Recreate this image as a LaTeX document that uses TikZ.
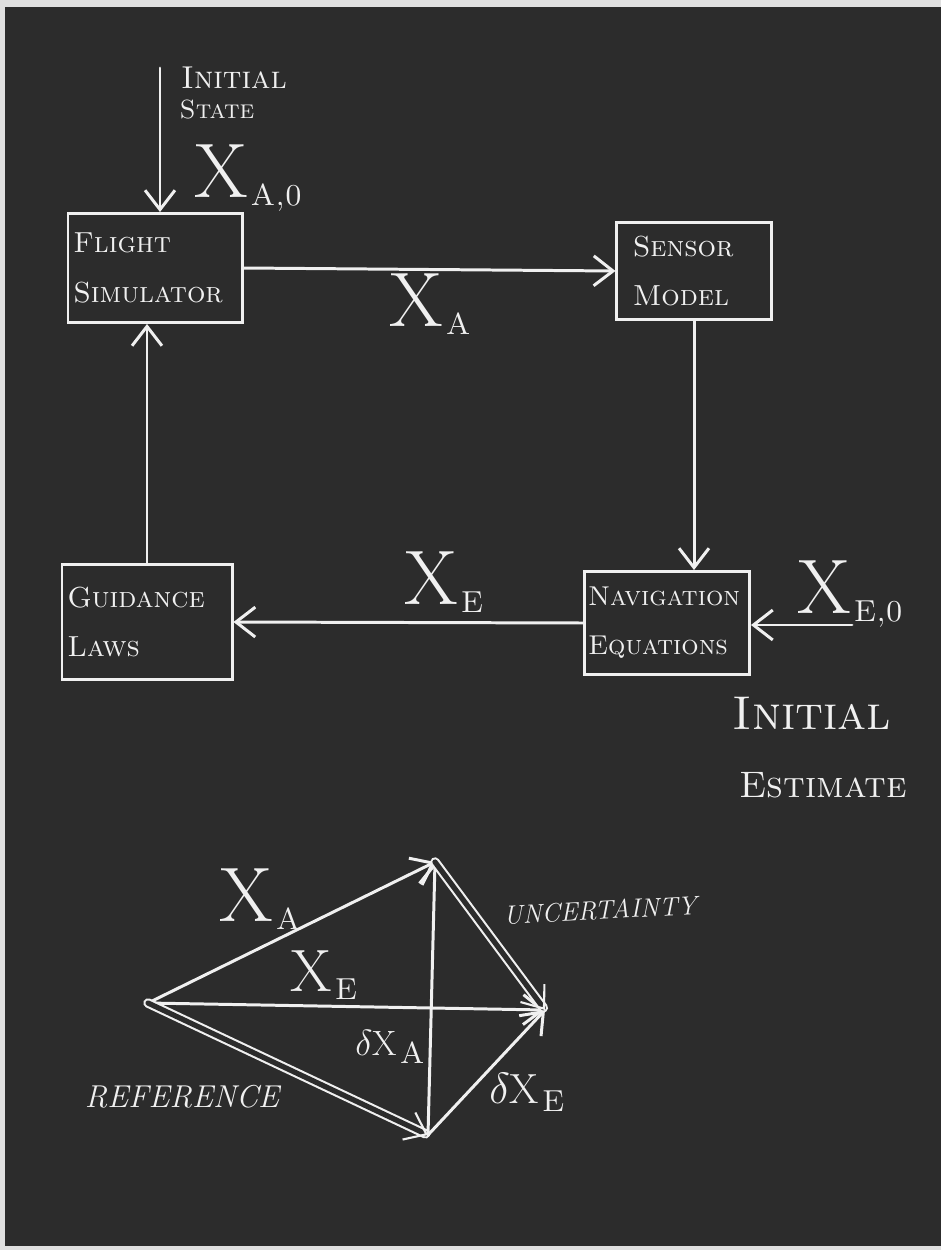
\documentclass[tikz,border=0pt]{standalone}
\usepackage{fontspec}
\usetikzlibrary{arrows.meta}
\definecolor{board}{RGB}{44,44,44}
\definecolor{chalk}{RGB}{240,240,240}
\newcommand{\stX}[3][]{{\fontsize{#2}{#2}\selectfont #1X}\,\raisebox{-1.1ex}{\LARGE\scshape #3}}

\begin{document}
\begin{tikzpicture}[x=0.02cm,y=-0.02cm,color=chalk,line width=1.7pt,
  vec/.style={-{Straight Barb[length=11pt,width=17pt]},line cap=round,line join=round},
  dvec/.style={vec,double=board,double distance=3pt,line width=1.2pt},
  blk/.style={draw,align=left,inner xsep=3pt,font=\fontsize{16.5}{19}\selectfont\scshape}]
\fill[black!12] (0,0) rectangle (941,1250);
\fill[board] (5,7) rectangle (941,1246);
\useasboundingbox (0,0) rectangle (941,1250);
\node[blk,text width=3.27cm,minimum height=2.18cm] (fs) at (155,268) {Flight\\[9pt]Simulator};
\node[blk,inner xsep=9pt,text width=2.45cm,minimum height=1.96cm] (sm) at (694,271) {Sensor\\[9pt]Model};
\node[blk,inner xsep=2pt,text width=3.16cm,minimum height=2.06cm,font=\fontsize{15.5}{18}\selectfont\scshape] (ne) at (667,623) {Navigation\\[10pt]Equations};
\node[blk,text width=3.19cm,minimum height=2.3cm] (gl) at (147,622) {Guidance\\[9pt]Laws};
\coordinate (is) at (160,68);
\coordinate (es) at (852,625);
\draw[vec] (is) -- (is |- fs.north);
\draw[vec] (fs.east) -- (sm.west);
\draw[vec] (sm.south) -- (sm.south |- ne.north);
\draw[vec] (es) -- (es -| ne.east);
\draw[vec] (ne.west) -- (gl.east);
\draw[vec] (gl.north) -- (gl.north |- fs.south);
\node[font=\fontsize{18}{20}\selectfont\scshape,inner sep=1pt] (ini1) at (234,78) {Initial};
\node[font=\fontsize{15}{17}\selectfont\scshape,inner sep=1pt] (sta) at (217,110) {State};
\node (xa0) at (248,178) {\stX{44}{A,0}};
\node (xa) at (430,304) {\stX{44}{A}};
\node (xe) at (444,582) {\stX{44}{E}};
\node (xe0) at (850,594) {\stX{44}{E,0}};
\node[font=\fontsize{27}{30}\selectfont\scshape] (ini2) at (812,713) {Initial};
\node[font=\fontsize{21}{24}\selectfont\scshape] (est) at (823,785) {Estimate};
\coordinate (o) at (148,1003);
\coordinate (t) at (435,862);
\coordinate (m) at (545,1010);
\coordinate (b) at (428,1135);
\draw[vec] (o) -- (t);
\draw[vec] (o) -- (m);
\draw[dvec] (o) -- (b);
\draw[vec] (b) -- (t);
\draw[vec] (b) -- (m);
\draw[dvec] (t) -- (m);
\node (xa2) at (260,899) {\stX{44}{A}};
\node (xe2) at (324,975) {\stX{34}{E}};
\node (dxa) at (390,1047) {\stX[$\delta$]{20}{A}};
\node (dxe) at (527,1092) {\stX[$\delta$]{24}{E}};
\node[font=\fontsize{15}{18}\selectfont\itshape,rotate=3] (unc) at (600,910) {UNCERTAINTY};
\node[font=\fontsize{18}{21}\selectfont\itshape] (ref) at (182,1097) {REFERENCE};
\end{tikzpicture}
\end{document}
